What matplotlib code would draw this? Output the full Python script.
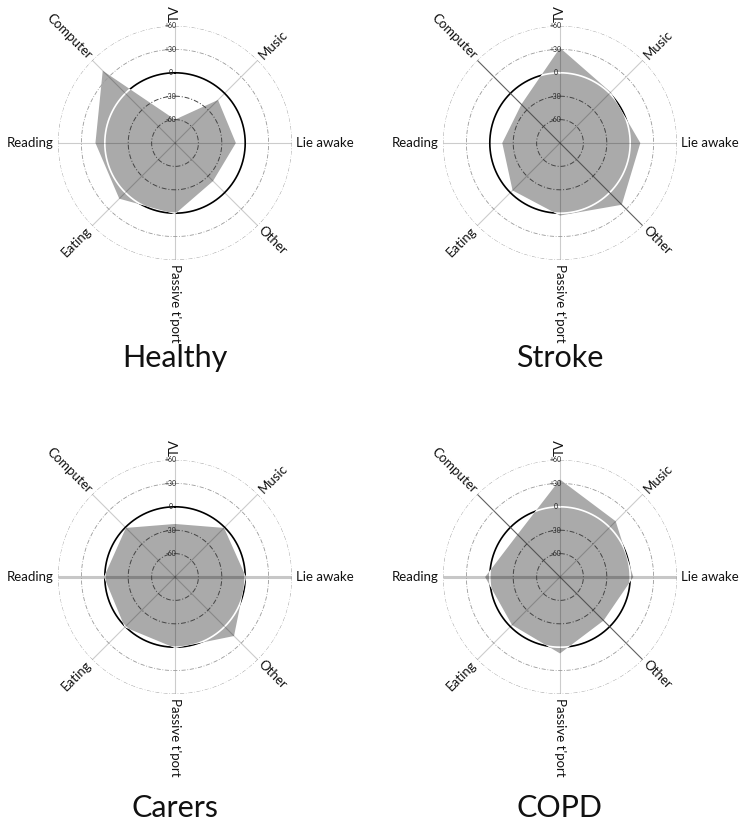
import numpy as np
import matplotlib
matplotlib.use("Agg")
import matplotlib.pyplot as plt

# categories, clockwise from the top
categories = ["TV", "Music", "Lie awake", "Other", "Passive t'port",
              "Eating", "Reading", "Computer"]
groups = ["Healthy", "Stroke", "Carers", "COPD"]

healthy = [-60, -12, -12, -21, 1, 11, 12, 41]
stroke = [32, 2, 13, 22, 3, -4, -16, -20]
carers = [-22, -1, 1, 17, 1, 1, 1, -1]
copd = [35, 11, 4, -11, 8, -3, 6, -13]

ring_values = [-60, -30, 0, 30, 60]
ring_labels = ["-60", "-30", "0", "+30", "+60"]

plt.rcParams['font.family'] = ['Lato', 'DejaVu Sans']

W, H = 746, 827
fig = plt.figure(figsize=(W / 100, H / 100), dpi=100)

centres = [(175, 143), (560, 143), (175, 577), (560, 577)]
title_y = [358, 358, 808, 808]
R = 117
RMIN, RMAX = -90, 60

# per panel spoke styles: index = diameter (0 TV/Passive, 1 Music/Eating,
# 2 Lie awake/Reading, 3 Other/Computer)
light = dict(color="k", alpha=0.2, lw=0.8)
dark = dict(color="#444444", alpha=0.85, lw=0.8)
thick = dict(color="k", alpha=0.22, lw=2.2)
spoke_styles = [
    [light, light, light, light],
    [light, light, light, dark],
    [light, light, thick, light],
    [light, light, thick, dark],
]

theta = np.arange(len(categories)) * 2 * np.pi / len(categories)
th = np.linspace(0, 2 * np.pi, 721)


def radar(ax, values, styles):
    ax.set_theta_zero_location("N")
    ax.set_theta_direction(-1)
    ax.set_ylim(RMIN, RMAX)
    ax.axis("off")

    # zero ring: black outside, white where the shape covers it
    ax.plot(th, np.zeros_like(th), color="k", lw=1.2, zorder=1)
    vals = list(values) + [values[0]]
    angs = list(theta) + [theta[0]]
    poly = ax.fill(angs, vals, color="#aaaaaa", lw=0, zorder=2)[0]
    white, = ax.plot(th, np.zeros_like(th), color="white", lw=1.2, zorder=3)
    white.set_clip_path(poly)

    for i, t in enumerate(theta):
        st = styles[i % 4]
        ax.plot([t, t], [RMIN, RMAX], zorder=4, solid_capstyle="butt", **st)

    for v, lab in zip(ring_values, ring_labels):
        if v < 0:
            ax.plot(th, np.full_like(th, v), color="#444444", lw=0.7,
                    ls=(0, (5, 2, 1, 2)), zorder=5)
        elif v > 0:
            ax.plot(th, np.full_like(th, v), color="#9a9a9a", lw=0.6,
                    ls=(0, (5, 2, 1, 2)), zorder=5)
        ax.annotate(lab, xy=(0, v), xytext=(-3, 0), textcoords="offset points",
                    ha="center", va="center", fontsize=5, color="#222222",
                    zorder=6)

    for i, (t, cat) in enumerate(zip(theta, categories)):
        phi = 90 - i * 45
        ha = "left"
        if phi > 90:
            phi -= 180
            ha = "right"
        elif phi < -90:
            phi += 180
            ha = "right"
        ax.text(t, 65, cat, rotation=phi, rotation_mode="anchor",
                ha=ha, va="center", fontsize=9.5, color="#111111",
                clip_on=False)


data = [healthy, stroke, carers, copd]
for k, (name, vals) in enumerate(zip(groups, data)):
    cx, cy = centres[k]
    rect = [(cx - R) / W, (H - cy - R) / H, 2 * R / W, 2 * R / H]
    ax = fig.add_axes(rect, projection="polar")
    radar(ax, vals, spoke_styles[k])
    fig.text(cx / W, 1 - title_y[k] / H, name, ha="center", va="center",
             fontsize=22, color="#111111")

fig.savefig("out.png", dpi=100)
